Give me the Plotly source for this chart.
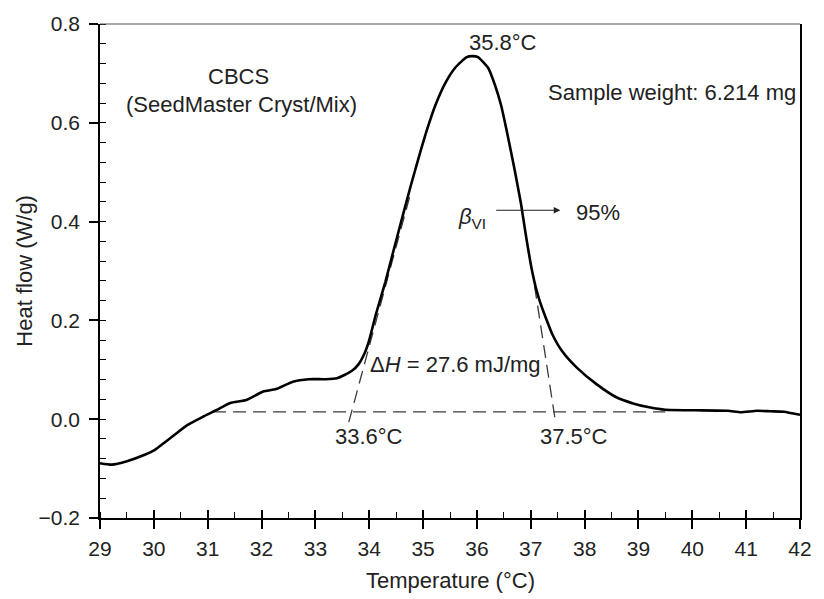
import plotly.graph_objects as go

# ---- data ----
temperature = [29.00, 29.22, 29.50, 29.83, 30.02, 30.20, 30.38, 30.62, 30.93, 31.17,
               31.42, 31.72, 32.03, 32.27, 32.58, 32.88, 33.19, 33.40, 33.55, 33.68,
               33.80, 33.92, 34.00, 34.12, 34.30, 34.46, 34.62, 34.77, 34.92, 35.07,
               35.23, 35.41, 35.60, 35.81, 35.92, 36.02, 36.21, 36.33, 36.45, 36.57,
               36.70, 36.82, 36.91, 37.01, 37.09, 37.17, 37.28, 37.40, 37.58, 37.85,
               38.22, 38.58, 38.90, 39.20, 39.50, 40.05, 40.66, 40.90, 41.20, 41.45,
               41.70, 41.85, 42.00]
heat_flow = [-0.089, -0.092, -0.085, -0.072, -0.062, -0.047, -0.032, -0.012, 0.006, 0.019,
             0.033, 0.039, 0.056, 0.061, 0.076, 0.081, 0.081, 0.083, 0.090, 0.098,
             0.111, 0.135, 0.160, 0.211, 0.278, 0.345, 0.411, 0.472, 0.530, 0.585,
             0.636, 0.680, 0.712, 0.733, 0.735, 0.733, 0.711, 0.678, 0.635, 0.575,
             0.505, 0.435, 0.372, 0.308, 0.268, 0.238, 0.205, 0.172, 0.138, 0.105,
             0.071, 0.045, 0.032, 0.024, 0.019, 0.018, 0.017, 0.014, 0.017, 0.016,
             0.015, 0.012, 0.009]

baseline_t = [31.1, 39.5]
baseline_v = [0.015, 0.015]
left_tangent_t = [33.62, 34.75]
left_tangent_v = [-0.006, 0.45]
right_tangent_t = [37.07, 37.46]
right_tangent_v = [0.27, -0.006]

x_ticks = list(range(29, 43))
y_ticks = [-0.2, 0.0, 0.2, 0.4, 0.6, 0.8]

FONT = "Liberation Sans, Arial, sans-serif"
TXT = "#222222"

fig = go.Figure()
dash_style = dict(color="#3a3a3a", width=1.3, dash="13px,7px")
fig.add_trace(go.Scatter(x=baseline_t, y=baseline_v, mode="lines", line=dash_style,
                         hoverinfo="skip", showlegend=False))
fig.add_trace(go.Scatter(x=left_tangent_t, y=left_tangent_v, mode="lines", line=dash_style,
                         hoverinfo="skip", showlegend=False))
fig.add_trace(go.Scatter(x=right_tangent_t, y=right_tangent_v, mode="lines", line=dash_style,
                         hoverinfo="skip", showlegend=False))
fig.add_trace(go.Scatter(x=temperature, y=heat_flow, mode="lines",
                         line=dict(color="black", width=2.6, shape="spline", smoothing=0.5),
                         showlegend=False))
# invisible trace for the overlay axis (inner half of crossing x ticks)
fig.add_trace(go.Scatter(x=[29, 42], y=[0, 0], xaxis="x2", mode="lines",
                         line=dict(width=0), hoverinfo="skip", showlegend=False))

fig.update_layout(
    width=824, height=599,
    margin=dict(l=100, r=14, t=18, b=81),
    paper_bgcolor="white", plot_bgcolor="white",
    font=dict(family=FONT, color=TXT, size=21),
    xaxis=dict(range=[29, 42], tickvals=x_ticks, ticks="outside", ticklen=9, tickwidth=1.5,
               tickcolor="black", showline=True, linecolor="black", linewidth=1.5,
               mirror=False, showgrid=False, zeroline=False, ticklabelstandoff=2,
               tickfont=dict(size=21, family=FONT, color=TXT),
               minor=dict(dtick=0.5, tick0=29, ticks="inside", ticklen=6, tickwidth=1.2,
                          tickcolor="black", showgrid=False)),
    xaxis2=dict(range=[29, 42], overlaying="x", matches="x", tickvals=x_ticks, ticks="inside",
                ticklen=8, tickwidth=1.5, tickcolor="black", showticklabels=False,
                showgrid=False, zeroline=False, showline=False, side="bottom", anchor="y"),
    yaxis=dict(range=[-0.2, 0.8], tickvals=y_ticks, tickformat=".1f", ticks="outside",
               ticklen=9, tickwidth=1.5, tickcolor="black", showline=True, linecolor="black",
               linewidth=1.5, mirror=True, showgrid=False, zeroline=False,
               ticklabelstandoff=5,
               tickfont=dict(size=21, family=FONT, color=TXT),
               minor=dict(dtick=0.04, tick0=-0.2, ticks="inside", ticklen=6, tickwidth=1.2,
                          tickcolor="black", showgrid=False)),
)

# thin grey top frame line
fig.add_shape(type="line", xref="paper", yref="paper", x0=0, x1=1, y0=1, y1=1,
              line=dict(color="#555555", width=1.2))

ann = [
    dict(x=31.57, y=0.694, text="CBCS"),
    dict(x=31.62, y=0.638, text="(SeedMaster Cryst/Mix)"),
    dict(x=36.48, y=0.762, text="35.8°C"),
    dict(x=39.62, y=0.662, text="Sample weight: 6.214 mg"),
    dict(x=38.25, y=0.418, text="95%"),
    dict(x=34.00, y=-0.034, text="33.6°C"),
    dict(x=37.80, y=-0.036, text="37.5°C"),
]
for a in ann:
    fig.add_annotation(x=a["x"], y=a["y"], xref="x", yref="y", text=a["text"], showarrow=False,
                       font=dict(size=22, family=FONT, color=TXT))

fig.add_annotation(x=36.20, y=0.408, xref="x", yref="y", xanchor="right",
                   text="<i>β</i><sub>VI</sub>", showarrow=False,
                   font=dict(size=22, family=FONT, color=TXT))
fig.add_annotation(x=33.98, y=0.110, xref="x", yref="y", xanchor="left",
                   text="Δ<i>H</i> = 27.6 mJ/mg", showarrow=False,
                   font=dict(size=22, family=FONT, color=TXT))
fig.add_annotation(x=37.55, y=0.423, ax=36.33, ay=0.423, xref="x", yref="y",
                   axref="x", ayref="y", text="", showarrow=True, arrowhead=2,
                   arrowsize=1.2, arrowwidth=1.1, arrowcolor="#222222")

# axis titles
fig.add_annotation(x=(455 - 99.5) / 710.5, y=(518 - 581) / 500, xref="paper", yref="paper",
                   xanchor="center", yanchor="middle",
                   text="Temperature (°C)", showarrow=False,
                   font=dict(size=22, family=FONT, color=TXT))
fig.add_annotation(x=(22 - 99.5) / 710.5, y=(518 - 268) / 500, xref="paper", yref="paper",
                   xanchor="center", yanchor="middle",
                   text="Heat flow (W/g)", textangle=-90, showarrow=False,
                   font=dict(size=22, family=FONT, color=TXT))

fig.write_html("out.html")
